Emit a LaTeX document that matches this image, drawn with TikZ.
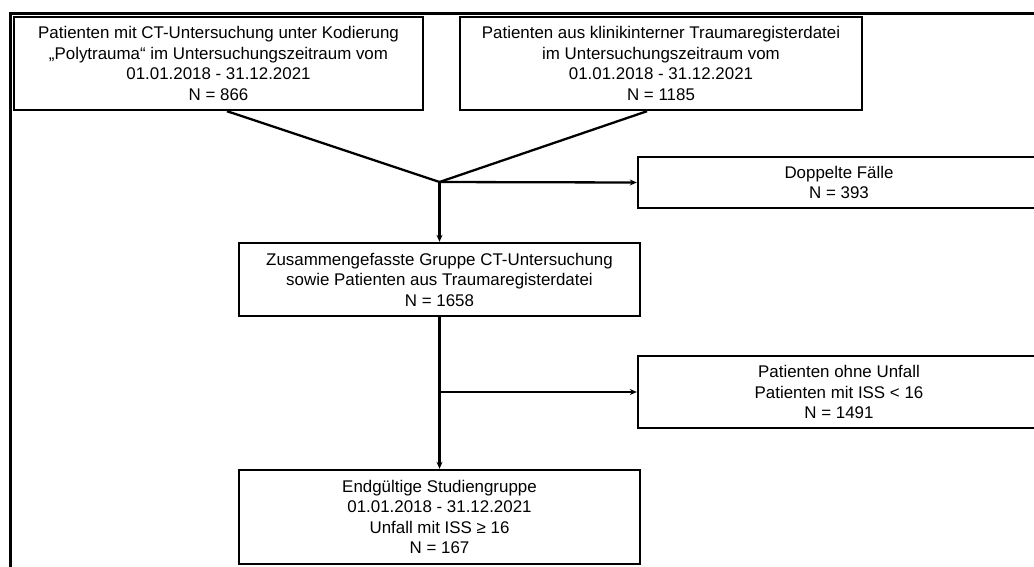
\documentclass[tikz,border=0pt]{standalone}
\usepackage{fontspec}
\setmainfont{Liberation Sans}
\usetikzlibrary{arrows.meta}
\begin{document}
\begin{tikzpicture}[x=1pt,y=-1pt,
  box/.style={draw,line width=2.4pt,align=center,inner sep=0pt,font=\fontsize{16.9}{20.5}\selectfont},
  conn/.style={line width=2.3pt},
  arr/.style={conn,-{Stealth[length=7pt,width=6pt]}},
  frame/.style={line width=3.2pt}]
\useasboundingbox (0,0) rectangle (1034,566);
\clip (0,0) rectangle (1034,566);
\draw[frame] (10.5,570) -- (10.5,13.5) -- (1040,13.5);
\node[box,minimum width=409pt,minimum height=93pt] (b1) at (218.5,63.5)
  {Patienten mit CT-Untersuchung unter Kodierung\\„Polytrauma“ im Untersuchungszeitraum vom\\01.01.2018 - 31.12.2021\\N = 866};
\node[box,minimum width=402pt,minimum height=93pt] (b2) at (661,63.5)
  {Patienten aus klinikinterner Traumaregisterdatei\\im Untersuchungszeitraum vom\\01.01.2018 - 31.12.2021\\N = 1185};
\node[box,minimum width=402pt,minimum height=51pt] (dop) at (839,182.5)
  {Doppelte Fälle\\N = 393};
\node[box,minimum width=401pt,minimum height=73pt] (b3) at (439.5,279.5)
  {Zusammengefasste Gruppe CT-Untersuchung\\sowie Patienten aus Traumaregisterdatei\\N = 1658};
\node[box,minimum width=402pt,minimum height=72pt] (ohne) at (839,392)
  {Patienten ohne Unfall\\Patienten mit ISS < 16\\N = 1491};
\node[box,minimum width=401pt,minimum height=94pt] (b4) at (439.5,517)
  {Endgültige Studiengruppe\\01.01.2018 - 31.12.2021\\Unfall mit ISS ≥ 16\\N = 167};
\coordinate (j) at (439.5,182);
\coordinate (k) at (439.5,392);
\draw[conn] ([xshift=8.5pt]b1.south) -- (j);
\draw[conn] ([xshift=-14pt]b2.south) -- (j);
\draw[arr] (j) -- (dop.west);
\draw[arr] (j) -- (b3.north);
\draw[arr] (b3.south) -- (b4.north);
\draw[arr] (k) -- (ohne.west);
\end{tikzpicture}
\end{document}
